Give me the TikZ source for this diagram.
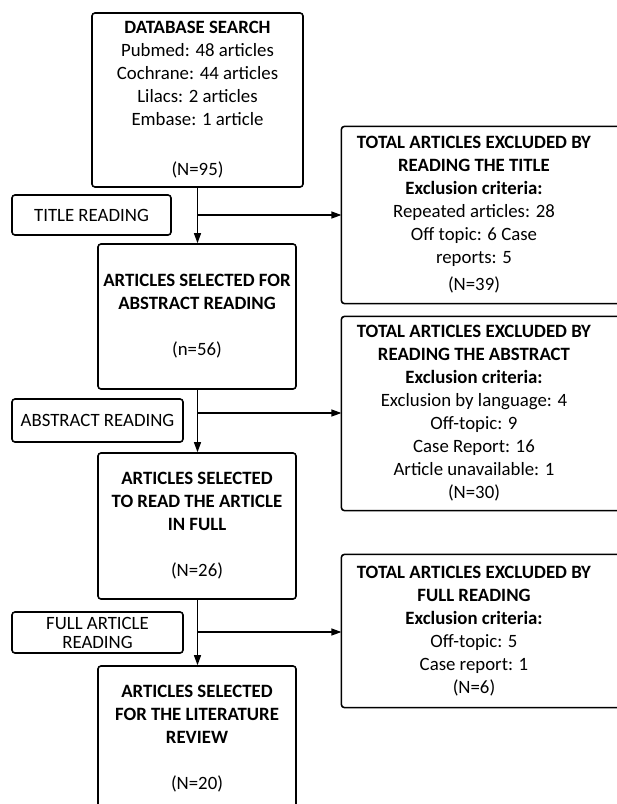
\documentclass[tikz,border=0pt]{standalone}
\usepackage{fontspec}
\setmainfont{Carlito}
\usetikzlibrary{arrows.meta}

\tikzset{
  stage/.style={draw, line width=1.6pt, rounded corners=3pt, align=center, inner sep=0pt},
  reading/.style={draw, line width=1.6pt, rounded corners=3pt, align=center, inner sep=0pt},
  excluded/.style={align=center, inner sep=0pt, minimum width=264pt},
  exframe/.style={draw, line width=1.6pt, rounded corners=3pt},
}

\begin{document}
\begin{tikzpicture}[x=1pt, y=-1pt, >={Triangle[length=10pt,width=7pt]}, line width=1.2pt, font=\fontsize{18.8}{23}\selectfont]
  \useasboundingbox (0,0) rectangle (617,804);
  % Main column
  \node[stage, minimum width=211pt, minimum height=174pt] (db) at (197.5,100)
    {\textbf{DATABASE SEARCH}\\ Pubmed: 48 articles\\ Cochrane: 44 articles\\ Lilacs: 2 articles\\ Embase: 1 article\\[27pt] (N=95)};
  \node[stage, minimum width=198pt, minimum height=145pt] (abstract) at (197,316.5)
    {\textbf{ARTICLES SELECTED FOR}\\ \textbf{ABSTRACT READING}\\[23pt] (n=56)};
  \node[stage, minimum width=198pt, minimum height=146pt] (fulltext) at (197,526)
    {\textbf{ARTICLES SELECTED}\\ \textbf{TO READ THE ARTICLE}\\ \textbf{IN FULL}\\[23pt] (N=26)};
  \node[stage, minimum width=198pt, minimum height=146pt] (review) at (197,739)
    {\textbf{ARTICLES SELECTED}\\ \textbf{FOR THE LITERATURE}\\ \textbf{REVIEW}\\[23pt] (N=20)};
  % Reading steps
  \node[reading, minimum width=159pt, minimum height=40pt] (titleread) at (91.5,215) {TITLE READING};
  \node[reading, minimum width=171pt, minimum height=43pt] (absread) at (97.5,420.5) {ABSTRACT READING};
  \node[reading, minimum width=171pt, minimum height=41pt] (fullread) at (97.5,632.5) {FULL ARTICLE\\[-4pt] READING};
  % Exclusions (frames run off the right edge)
  \node[excluded, minimum height=176pt] (extitle) at (474,215)
    {\textbf{TOTAL ARTICLES EXCLUDED BY}\\ \textbf{READING THE TITLE}\\ \textbf{Exclusion criteria:}\\ Repeated articles: 28\\ Off topic: 6 Case\\ reports: 5\\[4pt] (N=39)};
  \draw[exframe] (extitle.south west) rectangle ([xshift=40pt]extitle.north east);
  \node[excluded, minimum height=193pt] (exabstract) at (474,413.5)
    {\textbf{TOTAL ARTICLES EXCLUDED BY}\\ \textbf{READING THE ABSTRACT}\\ \textbf{Exclusion criteria:}\\ Exclusion by language: 4\\ Off-topic: 9\\ Case Report: 16\\ Article unavailable: 1\\ (N=30)};
  \draw[exframe] (exabstract.south west) rectangle ([xshift=40pt]exabstract.north east);
  \node[excluded, minimum height=152pt] (exfull) at (474,631)
    {\textbf{TOTAL ARTICLES EXCLUDED BY}\\ \textbf{FULL READING}\\ \textbf{Exclusion criteria:}\\ Off-topic: 5\\ Case report: 1\\ (N=6)};
  \draw[exframe] (exfull.south west) rectangle ([xshift=40pt]exfull.north east);
  % Flow
  \coordinate (tsplit) at (197.5,215);
  \coordinate (asplit) at (197.5,413);
  \coordinate (fsplit) at (197.5,632);
  \draw[->] (db.south) -- (abstract.north -| db.south);
  \draw[->] (abstract.south -| db.south) -- (fulltext.north -| db.south);
  \draw[->] (fulltext.south -| db.south) -- (review.north -| db.south);
  \draw[->] (tsplit) -- (tsplit -| extitle.west);
  \draw[->] (asplit) -- (asplit -| exabstract.west);
  \draw[->] (fsplit) -- (fsplit -| exfull.west);
\end{tikzpicture}
\end{document}
